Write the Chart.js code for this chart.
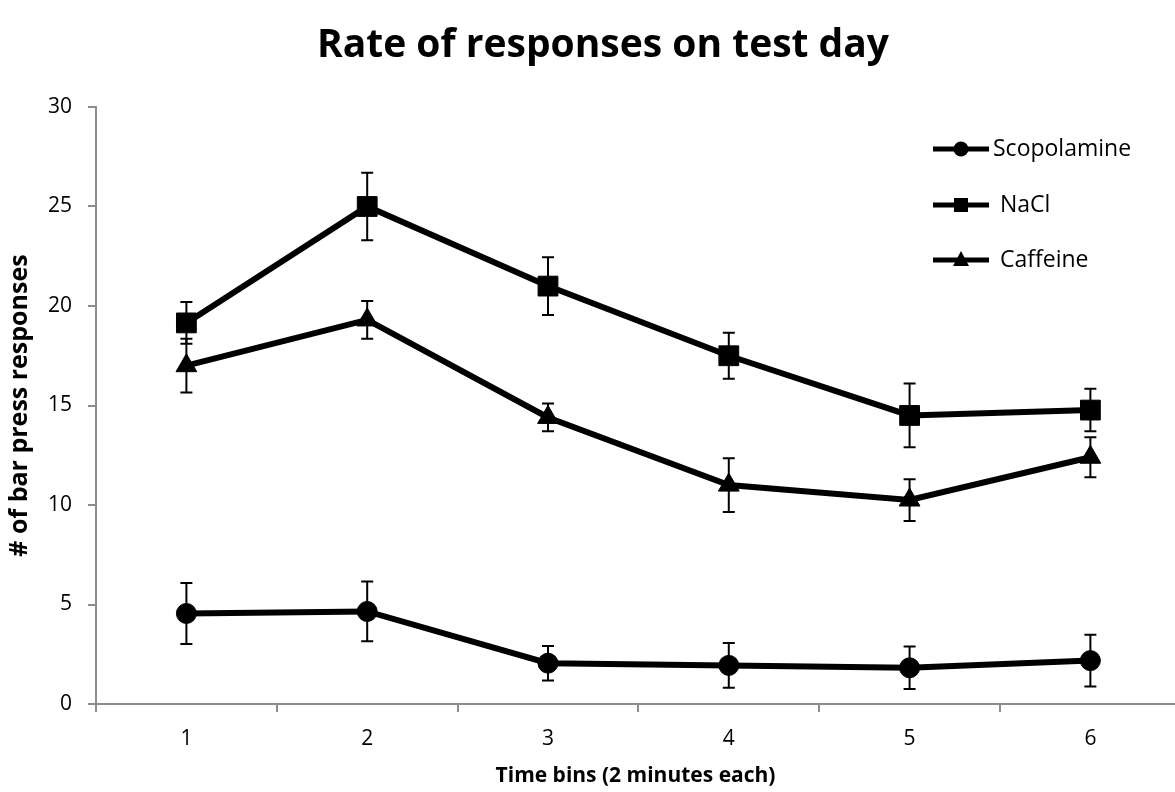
<!DOCTYPE html>
<html>
<head>
  <title>Rate of responses on test day</title>
  <script src="https://cdn.jsdelivr.net/npm/chart.js"></script>
  <style>
    html, body { margin: 0; padding: 0; background: #fff; overflow: hidden; }
    canvas { display: block; }
  </style>
</head>
<body>
  <canvas id="rateChart" width="1175" height="792"></canvas>

  <script>
    // time bins and tick labels
    const bins = [1, 2, 3, 4, 5, 6];
    const binLabels = ['1', '2', '3', '4', '5', '6'];
    const yTicks = [0, 5, 10, 15, 20, 25, 30];

    // mean responses per bin
    const scopolamine = [4.55, 4.65, 2.05, 1.94, 1.82, 2.18];
    const nacl = [19.15, 25.0, 21.0, 17.5, 14.5, 14.77];
    const caffeine = [17.0, 19.3, 14.4, 11.0, 10.25, 12.4];

    // error bar half-heights
    const scopolamineErr = [1.53, 1.5, 0.87, 1.12, 1.07, 1.3];
    const naclErr = [1.05, 1.7, 1.45, 1.15, 1.6, 1.07];
    const caffeineErr = [1.35, 0.95, 0.7, 1.35, 1.05, 1.0];

    const chartTitle = 'Rate of responses on test day';
    const axisGrey = '#8c8c8c';
    Chart.defaults.font.family = "'Open Sans', sans-serif";
    Chart.defaults.color = '#000';

    function toPoints(vals) {
      return vals.map((v, i) => ({ x: bins[i], y: v }));
    }

    function series(label, vals, errs, style, radius) {
      return {
        label: label,
        data: toPoints(vals),
        errors: errs,
        borderColor: '#000',
        backgroundColor: '#000',
        borderWidth: 6,
        tension: 0,
        clip: false,
        pointStyle: style,
        pointRadius: radius,
        pointHoverRadius: radius,
        pointBorderWidth: 1,
        pointBackgroundColor: '#000',
        pointBorderColor: '#000'
      };
    }

    // whiskers with caps, positioned through the chart scales
    const errorBars = {
      id: 'errorBars',
      beforeDatasetsDraw(chart) {
        const ctx = chart.ctx;
        const xs = chart.scales.x, ys = chart.scales.y;
        ctx.save();
        ctx.strokeStyle = '#000';
        ctx.lineWidth = 2;
        chart.data.datasets.forEach(ds => {
          ds.data.forEach((p, i) => {
            const e = ds.errors[i];
            const px = xs.getPixelForValue(p.x);
            const top = ys.getPixelForValue(p.y + e);
            const bot = ys.getPixelForValue(p.y - e);
            ctx.beginPath();
            ctx.moveTo(px, top); ctx.lineTo(px, bot);
            ctx.moveTo(px - 6, top); ctx.lineTo(px + 6, top);
            ctx.moveTo(px - 6, bot); ctx.lineTo(px + 6, bot);
            ctx.stroke();
          });
        });
        ctx.restore();
      }
    };

    // title sits a bit right of centre in the original
    const offsetTitle = {
      id: 'offsetTitle',
      afterDraw(chart) {
        const ctx = chart.ctx;
        ctx.save();
        ctx.fillStyle = '#000';
        ctx.font = "bold 39px 'Open Sans', sans-serif";
        ctx.textAlign = 'center';
        ctx.textBaseline = 'middle';
        ctx.fillText(chartTitle, 603, 46);
        ctx.restore();
      }
    };

    // legend drawn as line + marker like the original
    const lineLegend = {
      id: 'lineLegend',
      afterDraw(chart) {
        const ctx = chart.ctx;
        const x0 = 933, x1 = 989, xm = 961;
        const rows = [149, 205, 260];
        const textX = [993, 1000, 1000];
        ctx.save();
        chart.data.datasets.forEach((ds, i) => {
          const y = rows[i];
          ctx.strokeStyle = '#000';
          ctx.lineWidth = 5;
          ctx.beginPath();
          ctx.moveTo(x0, y); ctx.lineTo(x1, y);
          ctx.stroke();
          ctx.fillStyle = '#000';
          ctx.beginPath();
          if (ds.pointStyle === 'circle') {
            ctx.arc(xm, y, 7.5, 0, Math.PI * 2);
          } else if (ds.pointStyle === 'rect') {
            ctx.rect(xm - 7, y - 7, 14, 14);
          } else {
            ctx.moveTo(xm, y - 9);
            ctx.lineTo(xm + 8, y + 6);
            ctx.lineTo(xm - 8, y + 6);
            ctx.closePath();
          }
          ctx.fill();
          ctx.font = "23px 'Open Sans', sans-serif";
          ctx.textBaseline = 'middle';
          ctx.fillText(ds.label, textX[i], y);
        });
        ctx.restore();
      }
    };

    new Chart(document.getElementById('rateChart'), {
      type: 'line',
      data: {
        datasets: [
          series('Scopolamine', scopolamine, scopolamineErr, 'circle', 10),
          series('NaCl', nacl, naclErr, 'rect', 14),
          series('Caffeine', caffeine, caffeineErr, 'triangle', 12)
        ]
      },
      options: {
        responsive: false,
        animation: false,
        layout: { autoPadding: false, padding: { top: 107, left: 0, right: 0, bottom: 0 } },
        plugins: {
          legend: { display: false },
          tooltip: { enabled: false },
          title: { display: false }
        },
        scales: {
          x: {
            type: 'linear',
            min: 0.5,
            max: 6.468,
            afterFit: s => {
              s.height = 88;
              s.paddingLeft = 0;
              s.paddingRight = 0;
            },
            afterBuildTicks: s => {
              const t = [];
              bins.forEach(b => { t.push({ value: b - 0.5 }); t.push({ value: b }); });
              s.ticks = t;
            },
            ticks: {
              font: { size: 21 },
              padding: 14,
              maxRotation: 0,
              autoSkip: false,
              callback: v => {
                const i = bins.indexOf(v);
                return i >= 0 ? binLabels[i] : '';
              }
            },
            grid: {
              drawOnChartArea: false,
              tickLength: 8,
              lineWidth: 2,
              tickColor: c => (c.tick && Number.isInteger(c.tick.value)) ? 'rgba(0,0,0,0)' : axisGrey
            },
            border: { color: axisGrey, width: 2 },
            title: {
              display: true,
              text: 'Time bins (2 minutes each)',
              font: { size: 21, weight: 'bold' },
              color: '#000',
              padding: { top: 0, bottom: 3 }
            }
          },
          y: {
            min: 0,
            max: 30,
            afterFit: s => {
              s.width = 96;
              s.paddingTop = 0;
              s.paddingBottom = 0;
            },
            afterBuildTicks: s => { s.ticks = yTicks.map(v => ({ value: v })); },
            ticks: { font: { size: 21 }, padding: 16 },
            grid: {
              drawOnChartArea: false,
              tickLength: 8,
              lineWidth: 2,
              color: axisGrey
            },
            border: { color: axisGrey, width: 2 },
            title: {
              display: true,
              text: '# of bar press responses',
              font: { size: 25, weight: 'bold' },
              color: '#000',
              padding: { top: 5, bottom: 0 }
            }
          }
        }
      },
      plugins: [errorBars, offsetTitle, lineLegend]
    });
  </script>
</body>
</html>
